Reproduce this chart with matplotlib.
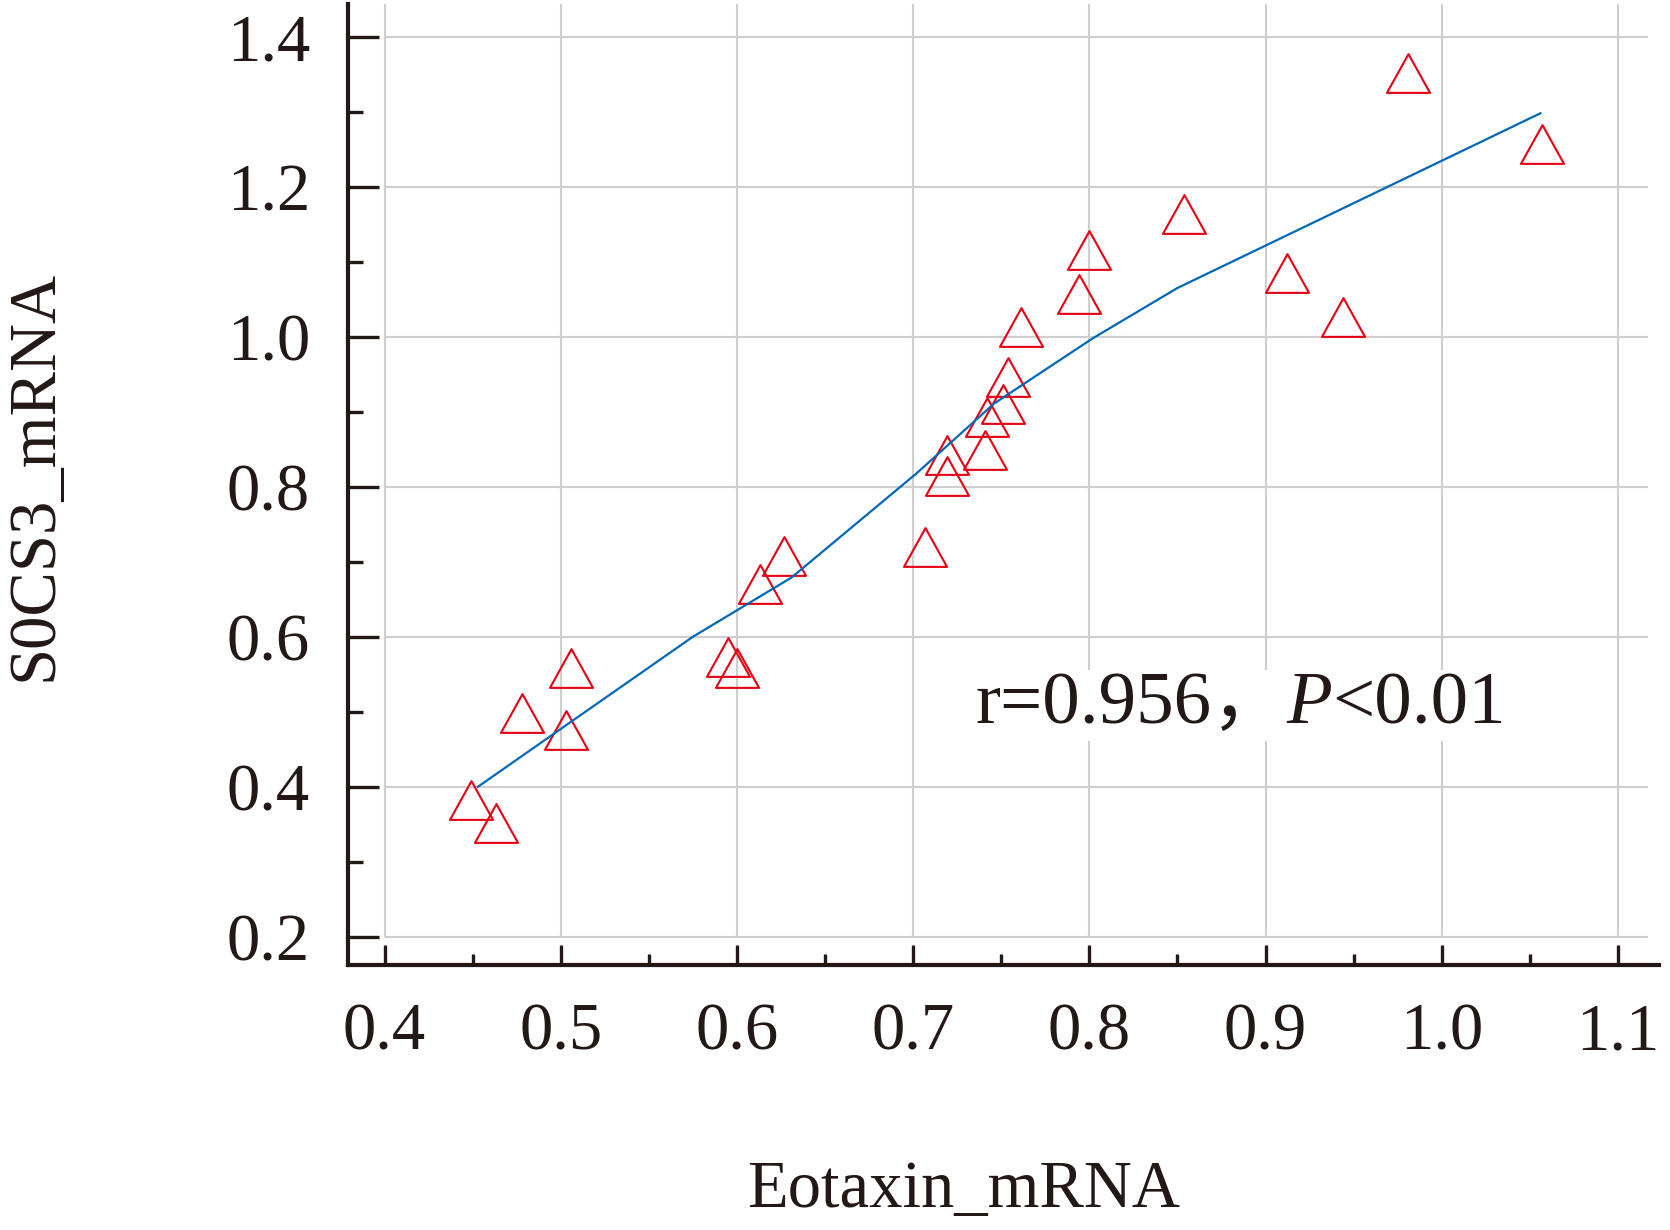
import numpy as np
import matplotlib
matplotlib.use("Agg")
import matplotlib.pyplot as plt
from matplotlib.path import Path
from matplotlib.offsetbox import TextArea, HPacker, AnnotationBbox

# data
eotaxin = [0.449, 0.463, 0.478, 0.503, 0.506, 0.595, 0.600, 0.613, 0.627, 0.707,
           0.719, 0.719, 0.741, 0.742, 0.751, 0.754, 0.761, 0.794, 0.800, 0.854,
           0.912, 0.944, 0.981, 1.057]
socs3 = [0.382, 0.352, 0.499, 0.476, 0.558, 0.573, 0.558, 0.671, 0.708, 0.720,
         0.843, 0.815, 0.849, 0.893, 0.910, 0.947, 1.013, 1.057, 1.116, 1.164,
         1.085, 1.027, 1.352, 1.257]

# fitted curve
fit_x = [0.453, 0.575, 0.631, 0.702, 0.746, 0.802, 0.850, 1.056]
fit_y = [0.400, 0.600, 0.679, 0.818, 0.911, 0.998, 1.065, 1.298]

x_ticks = [0.4, 0.5, 0.6, 0.7, 0.8, 0.9, 1.0, 1.1]
y_ticks = [0.2, 0.4, 0.6, 0.8, 1.0, 1.2, 1.4]
x_label = "Eotaxin_mRNA"
y_label = "S0CS3_mRNA"
stat_parts = ["r=0.956，", "P", "<0.01"]

ink = "#231815"
red = "#e60012"
blue = "#0068b7"
grid_c = "#cfcfcf"

plt.rcParams['font.family'] = ['Liberation Serif', 'Noto Sans CJK SC']
plt.rcParams['text.color'] = ink

fig = plt.figure(figsize=(16.7, 12.3), dpi=100)
ax = fig.add_axes([0.2084, 0.2154, 0.785, 0.7813])

xlim = (0.3793, 1.1233)
ylim = (0.1623, 1.4436)
ax.set_xlim(*xlim)
ax.set_ylim(*ylim)

# grid only spans the tick range
ax.hlines(y_ticks, x_ticks[0], 1.117, color=grid_c, lw=1.5, zorder=0)
ax.vlines(x_ticks, y_ticks[0], ylim[1], color=grid_c, lw=1.5, zorder=0)

tri = Path([(0, 0.9), (-1, -0.9), (1, -0.9), (0, 0.9)],
           [Path.MOVETO, Path.LINETO, Path.LINETO, Path.CLOSEPOLY])
ax.plot(eotaxin, socs3, linestyle='none', marker=tri, ms=31,
        mfc='none', mec=red, mew=1.5, zorder=3)
ax.plot(fit_x, fit_y, color=blue, lw=1.6, zorder=4)

for s in ['top', 'right']:
    ax.spines[s].set_visible(False)
for s in ['left', 'bottom']:
    ax.spines[s].set_linewidth(3)
    ax.spines[s].set_color(ink)

ax.set_xticks(x_ticks)
ax.set_xticks(np.array(x_ticks[:-1]) + 0.05, minor=True)
ax.set_yticks(y_ticks)
ax.set_yticks(np.array(y_ticks[:-1]) + 0.1, minor=True)
ax.set_xticklabels([f"{v:.1f}" for v in x_ticks])
ax.set_yticklabels([f"{v:.1f}" for v in y_ticks])

ax.tick_params(axis='both', which='both', direction='in', color=ink, width=2.4,
               labelsize=48, labelcolor=ink)
ax.tick_params(axis='x', which='major', length=14.4, pad=26.6)
ax.tick_params(axis='x', which='minor', length=8)
ax.tick_params(axis='y', which='major', length=22.3, pad=27.4)
ax.tick_params(axis='y', which='minor', length=10.8)

fig.text(0.5772, 0.0183, x_label, fontsize=48, ha='center', va='baseline')
fig.text(0.0311, 0.6134, y_label, fontsize=48, rotation=90,
         rotation_mode='anchor', ha='center', va='baseline')

# r / P annotation, P in italics, on a white box
parts = [TextArea(stat_parts[0], textprops=dict(fontsize=54, color=ink)),
         TextArea(stat_parts[1], textprops=dict(fontsize=54, color=ink,
                                                 style='italic')),
         TextArea(stat_parts[2], textprops=dict(fontsize=54, color=ink))]
pack = HPacker(children=parts, align='baseline', pad=0, sep=0)
ab = AnnotationBbox(pack, (0.7355, 0.5083), xycoords='data',
                    box_alignment=(0, 0.5), frameon=True, pad=0.15,
                    bboxprops=dict(facecolor='white', edgecolor='none'),
                    zorder=2)
ax.add_artist(ab)

fig.savefig("out.png", dpi=100)
